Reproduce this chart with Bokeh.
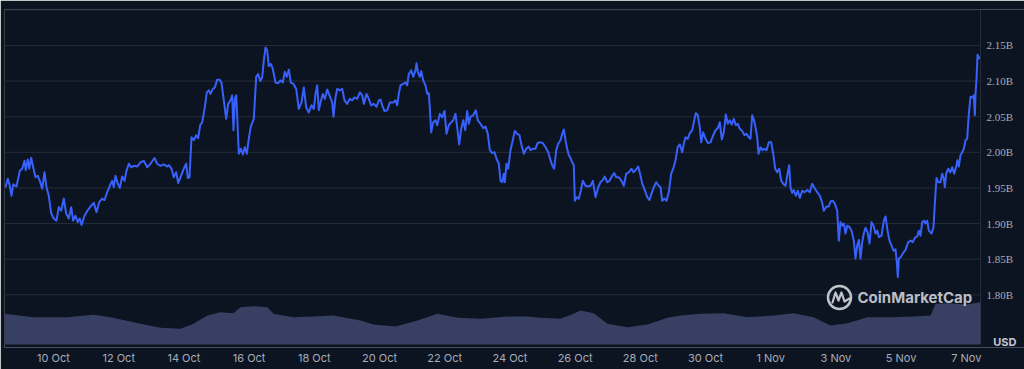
import numpy as np
from datetime import datetime
from bokeh.plotting import figure
from bokeh.models import ColumnDataSource, Range1d, FixedTicker, Label, LabelSet
from bokeh.embed import file_html
from bokeh.resources import INLINE

BASE = datetime(2023, 10, 8)

# price (market cap, billions USD) — day offsets from 8 Oct 00:00
price_days = [0.527, 0.598, 0.659, 0.711, 0.764, 0.865, 0.966, 1.040, 1.110, 1.150, 1.211, 1.254, 1.316, 1.377, 1.448,
              1.518, 1.580, 1.653, 1.724, 1.785, 1.856, 1.929, 2.009, 2.092, 2.162, 2.236, 2.316, 2.389, 2.469, 2.543,
              2.604, 2.675, 2.745, 2.807, 2.859, 2.951, 3.052, 3.156, 3.236, 3.319, 3.402, 3.494, 3.564, 3.647, 3.727,
              3.800, 3.850, 3.902, 3.972, 4.034, 4.107, 4.178, 4.239, 4.310, 4.383, 4.463, 4.567, 4.669, 4.770, 4.874,
              4.975, 5.098, 5.181, 5.282, 5.383, 5.488, 5.537, 5.619, 5.690, 5.764, 5.825, 5.896, 5.997, 6.070, 6.119,
              6.172, 6.233, 6.303, 6.377, 6.438, 6.500, 6.561, 6.641, 6.703, 6.764, 6.816, 6.887, 6.948, 7.021, 7.092,
              7.153, 7.224, 7.297, 7.359, 7.430, 7.481, 7.521, 7.561, 7.604, 7.644, 7.684, 7.745, 7.807, 7.868, 7.929,
              7.991, 8.052, 8.144, 8.218, 8.279, 8.340, 8.402, 8.451, 8.503, 8.555, 8.604, 8.666, 8.727, 8.810, 8.893,
              8.963, 9.034, 9.095, 9.156, 9.218, 9.279, 9.362, 9.445, 9.524, 9.607, 9.678, 9.751, 9.831, 9.914, 9.985,
              10.037, 10.089, 10.138, 10.190, 10.261, 10.322, 10.396, 10.466, 10.549, 10.589, 10.650, 10.702, 10.782,
              10.856, 10.926, 11.009, 11.089, 11.163, 11.233, 11.316, 11.396, 11.470, 11.519, 11.601, 11.672, 11.745,
              11.825, 11.908, 11.979, 12.031, 12.083, 12.154, 12.237, 12.316, 12.420, 12.491, 12.543, 12.592, 12.644,
              12.727, 12.797, 12.849, 12.899, 12.972, 13.034, 13.104, 13.135, 13.175, 13.236, 13.279, 13.340, 13.411,
              13.463, 13.512, 13.543, 13.586, 13.647, 13.718, 13.770, 13.850, 13.923, 13.994, 14.055, 14.126, 14.200,
              14.261, 14.331, 14.383, 14.445, 14.506, 14.567, 14.629, 14.690, 14.739, 14.791, 14.874, 14.954, 15.015,
              15.098, 15.181, 15.252, 15.322, 15.384, 15.457, 15.528, 15.589, 15.660, 15.712, 15.764, 15.813, 15.844,
              15.896, 15.948, 16.018, 16.089, 16.150, 16.224, 16.294, 16.356, 16.426, 16.500, 16.580, 16.632, 16.702,
              16.785, 16.847, 16.938, 17.009, 17.092, 17.175, 17.245, 17.297, 17.359, 17.420, 17.481, 17.552, 17.604,
              17.653, 17.705, 17.757, 17.807, 17.859, 17.911, 17.960, 17.991, 18.052, 18.114, 18.175, 18.236, 18.319,
              18.402, 18.473, 18.544, 18.626, 18.709, 18.779, 18.850, 18.911, 18.985, 19.055, 19.138, 19.199, 19.261,
              19.341, 19.423, 19.494, 19.568, 19.648, 19.730, 19.791, 19.853, 19.936, 20.006, 20.058, 20.138, 20.212,
              20.282, 20.343, 20.414, 20.488, 20.568, 20.620, 20.672, 20.742, 20.804, 20.874, 20.948, 21.009, 21.080,
              21.150, 21.212, 21.285, 21.334, 21.386, 21.457, 21.518, 21.592, 21.641, 21.702, 21.764, 21.825, 21.868,
              21.929, 22.000, 22.071, 22.153, 22.236, 22.307, 22.377, 22.439, 22.500, 22.561, 22.623, 22.684, 22.745,
              22.807, 22.868, 22.929, 22.991, 23.052, 23.126, 23.196, 23.258, 23.328, 23.380, 23.432, 23.482, 23.534,
              23.586, 23.625, 23.687, 23.748, 23.810, 23.871, 23.942, 24.015, 24.077, 24.138, 24.199, 24.261, 24.322,
              24.383, 24.454, 24.525, 24.567, 24.607, 24.659, 24.709, 24.770, 24.831, 24.893, 24.966, 25.037, 25.120,
              25.200, 25.273, 25.344, 25.427, 25.506, 25.580, 25.629, 25.712, 25.782, 25.834, 25.905, 25.966, 26.040,
              26.089, 26.141, 26.193, 26.243, 26.294, 26.346, 26.417, 26.478, 26.549, 26.601, 26.653, 26.703, 26.755,
              26.807, 26.856, 26.908, 26.970, 27.031, 27.092, 27.153, 27.215, 27.267, 27.316, 27.399, 27.470, 27.522,
              27.583, 27.644, 27.706, 27.767, 27.828, 27.868, 27.899, 27.930, 27.991, 28.053, 28.135, 28.218, 28.298,
              28.359, 28.421, 28.494, 28.543, 28.595, 28.647, 28.709, 28.748, 28.800, 28.850, 28.933, 28.994, 29.034,
              29.086, 29.138, 29.208, 29.260, 29.310, 29.340, 29.383, 29.445, 29.506, 29.568, 29.629, 29.690, 29.730,
              29.770, 29.822, 29.874, 29.923, 29.975, 30.027, 30.077, 30.129, 30.181, 30.230, 30.261, 30.282, 30.313,
              30.344, 30.405]
price_b = [1.951, 1.963, 1.953, 1.939, 1.955, 1.952, 1.974, 1.977, 1.988, 1.975, 1.990, 1.977, 1.992, 1.979, 1.965,
           1.967, 1.960, 1.949, 1.972, 1.951, 1.939, 1.914, 1.907, 1.904, 1.923, 1.918, 1.935, 1.914, 1.907, 1.923,
           1.904, 1.911, 1.902, 1.907, 1.898, 1.911, 1.919, 1.925, 1.929, 1.916, 1.930, 1.935, 1.933, 1.944, 1.953,
           1.960, 1.951, 1.967, 1.956, 1.950, 1.966, 1.960, 1.974, 1.984, 1.979, 1.981, 1.980, 1.986, 1.988, 1.979,
           1.984, 1.992, 1.984, 1.981, 1.983, 1.980, 1.982, 1.977, 1.965, 1.972, 1.957, 1.965, 1.977, 1.984, 1.964,
           1.965, 2.021, 2.017, 2.024, 2.020, 2.038, 2.042, 2.063, 2.084, 2.087, 2.082, 2.089, 2.091, 2.102, 2.102,
           2.098, 2.073, 2.047, 2.068, 2.073, 2.080, 2.031, 2.075, 2.080, 2.042, 1.998, 2.005, 1.997, 2.007, 1.998,
           2.019, 2.036, 2.047, 2.106, 2.110, 2.100, 2.105, 2.129, 2.147, 2.143, 2.121, 2.124, 2.117, 2.098, 2.097,
           2.101, 2.098, 2.113, 2.106, 2.116, 2.098, 2.096, 2.089, 2.061, 2.070, 2.091, 2.063, 2.056, 2.066, 2.061,
           2.082, 2.094, 2.059, 2.070, 2.082, 2.075, 2.088, 2.080, 2.070, 2.050, 2.077, 2.089, 2.087,
           2.089, 2.073, 2.068, 2.075, 2.073, 2.077, 2.075, 2.084, 2.080, 2.068, 2.082, 2.075, 2.066,
           2.068, 2.064, 2.073, 2.074, 2.066, 2.058, 2.059, 2.070, 2.070, 2.073, 2.066, 2.082, 2.094,
           2.096, 2.098, 2.094, 2.110, 2.115, 2.106, 2.115, 2.125, 2.113, 2.106, 2.114, 2.101, 2.094,
           2.082, 2.083, 2.063, 2.028, 2.042, 2.045, 2.038, 2.054, 2.049, 2.058, 2.026, 2.038, 2.042,
           2.045, 2.054, 2.035, 2.011, 2.033, 2.045, 2.031, 2.058, 2.040, 2.050, 2.052, 2.059, 2.045,
           2.040, 2.034, 2.036, 2.026, 2.003, 1.999, 2.000, 1.991, 1.984, 1.960, 1.958, 1.970, 1.958,
           1.984, 1.977, 2.003, 2.017, 2.030, 2.026, 2.024, 2.010, 1.998, 2.005, 2.008, 2.003, 2.005,
           2.005, 2.013, 2.014, 2.013, 2.007, 2.000, 1.989, 1.982, 1.977, 2.003, 2.012, 2.017, 2.026,
           2.032, 2.017, 2.005, 1.996, 1.992, 1.986, 1.982, 1.932, 1.937, 1.935, 1.946, 1.960, 1.953,
           1.952, 1.953, 1.960, 1.937, 1.951, 1.958, 1.961, 1.966, 1.958, 1.960, 1.967, 1.971, 1.965,
           1.965, 1.960, 1.953, 1.970, 1.972, 1.977, 1.972, 1.975, 1.980, 1.967, 1.956, 1.947, 1.937,
           1.933, 1.942, 1.951, 1.958, 1.953, 1.951, 1.932, 1.935, 1.932, 1.944, 1.970, 1.977, 1.989,
           2.008, 2.011, 2.000, 2.012, 2.021, 2.019, 2.027, 2.031, 2.042, 2.055, 2.052, 2.035, 2.014,
           2.028, 2.019, 2.013, 2.014, 2.024, 2.031, 2.034, 2.042, 2.018, 2.028, 2.053, 2.040, 2.045,
           2.039, 2.047, 2.038, 2.040, 2.033, 2.030, 2.024, 2.026, 2.021, 2.019, 2.052, 2.046, 2.035,
           2.021, 1.998, 2.007, 2.003, 2.005, 2.003, 2.014, 2.014, 1.998, 1.977, 1.972, 1.977, 1.960,
           1.956, 1.953, 1.972, 1.982, 1.951, 1.943, 1.947, 1.939, 1.946, 1.936, 1.946, 1.944, 1.947,
           1.944, 1.956, 1.950, 1.944, 1.939, 1.929, 1.918, 1.924, 1.924, 1.931, 1.932, 1.928, 1.918,
           1.876, 1.902, 1.897, 1.900, 1.886, 1.897, 1.895, 1.890, 1.876, 1.851, 1.869, 1.877, 1.851,
           1.874, 1.886, 1.894, 1.888, 1.872, 1.902, 1.897, 1.886, 1.890, 1.881, 1.883, 1.904, 1.910,
           1.890, 1.876, 1.869, 1.862, 1.864, 1.846, 1.825, 1.851, 1.853, 1.858, 1.863, 1.874, 1.876,
           1.874, 1.880, 1.882, 1.890, 1.883, 1.902, 1.904, 1.900, 1.904, 1.890, 1.886, 1.895, 1.928,
           1.964, 1.958, 1.958, 1.970, 1.963, 1.951, 1.970, 1.977, 1.972, 1.979, 1.970, 1.980, 1.989,
           1.980, 1.996, 2.000, 2.005, 2.017, 2.019, 2.054, 2.078, 2.077, 2.080, 2.052, 2.082, 2.103,
           2.137, 2.131]

# trading volume (relative units, millions)
volume_days = [0.497, 1.386, 2.429, 3.227, 3.748, 4.669, 5.282, 5.896, 6.294, 6.724, 7.123, 7.521, 7.736, 8.135,
               8.564, 8.748, 9.362, 9.976, 10.589, 11.417, 11.816, 12.491, 13.166, 13.779, 14.393, 15.098, 15.926,
               16.540, 16.939, 17.552, 17.951, 18.166, 18.565, 18.994, 19.607, 20.221, 20.834, 21.233, 21.847,
               22.552, 23.288, 24.086, 24.699, 25.313, 25.834, 26.356, 26.969, 27.767, 28.381, 28.902, 29.055,
               29.423, 30.037, 30.221, 30.436]
volume_m = [22.9, 20.4, 20.4, 22.2, 20.4, 15.4, 12.5, 11.7, 15.4, 21.6, 24.1, 23.4, 27.8, 28.6, 27.8, 22.9, 20.4,
            20.9, 21.6, 17.9, 14.9, 13.4, 17.9, 22.9, 19.9, 19.2, 20.9, 20.9, 19.9, 19.2, 22.9, 25.4, 23.4, 15.4,
            12.9, 14.9, 19.9, 21.6, 22.9, 23.4, 20.4, 21.6, 23.4, 20.4, 14.2, 15.9, 20.4, 20.4, 20.9, 21.6, 30.4,
            30.8, 29.8, 30.8, 31.6]

x_tick_days = [2, 4, 6, 8, 10, 12, 14, 16, 18, 20, 22, 24, 26, 28, 30]
x_tick_labels = ["10 Oct", "12 Oct", "14 Oct", "16 Oct", "18 Oct", "20 Oct", "22 Oct", "24 Oct", "26 Oct",
                 "28 Oct", "30 Oct", "1 Nov", "3 Nov", "5 Nov", "7 Nov"]
y_ticks = [1.80, 1.85, 1.90, 1.95, 2.00, 2.05, 2.10, 2.15]
y_tick_labels = ["1.80B", "1.85B", "1.90B", "1.95B", "2.00B", "2.05B", "2.10B", "2.15B"]
y_grid = [1.80, 1.85, 1.90, 1.95, 2.00, 2.05, 2.10, 2.15, 2.20]
unit_label = "USD"

BASE_MS = (BASE - datetime(1970, 1, 1)).total_seconds() * 1000.0
DAY_MS = 86400000.0


def to_ms(days):
    return [BASE_MS + d * DAY_MS for d in days]


# data window: x = 4px ... 980px, y = 9px ... 344px ; frame bottom at 347px
X0, X1 = 0.497, 30.435
Y0, Y1 = 1.7302, 2.2005
PL, PR, PT, PB = 4, 980, 9, 344
FB = 347
VOL_TOP = 250.0


def px_x(px):
    return BASE_MS + (X0 + (px - PL) / (PR - PL) * (X1 - X0)) * DAY_MS


def px_y(py):
    return Y1 - (py - PT) / (PB - PT) * (Y1 - Y0)


BG = "#0d1421"
GRID = "#262c3a"
TXT = "#a7acb9"
LINE = "#3861fb"

# frame spans to the right canvas edge so the value labels can live inside it
p = figure(width=1024, height=369, x_axis_type="datetime", y_axis_location=None,
           x_range=Range1d(px_x(PL), px_x(1024)), y_range=Range1d(px_y(FB), Y1),
           output_backend="svg", toolbar_location=None,
           min_border_left=PL, min_border_right=0, min_border_top=PT, min_border_bottom=369 - FB)
p.background_fill_color = BG
p.border_fill_color = BG
p.outline_line_color = None

vol_start = -VOL_TOP * (FB - PB) / (PB - PT)
p.extra_y_ranges = {"vol": Range1d(vol_start, VOL_TOP)}

# grid lines and left/right borders of the chart area
n = len(y_grid)
p.segment(x0=[px_x(PL)] * n, x1=[px_x(PR)] * n, y0=y_grid, y1=y_grid, line_color=GRID, line_width=1)
p.segment(x0=[px_x(PL), px_x(PR)], x1=[px_x(PL), px_x(PR)], y0=[Y0, Y0], y1=[Y1, Y1],
          line_color=GRID, line_width=1)

vsrc = ColumnDataSource(dict(x=to_ms(volume_days), v=volume_m))
p.varea(x="x", y1=0, y2="v", source=vsrc, y_range_name="vol", fill_color="#373f63", fill_alpha=1.0)

src = ColumnDataSource(dict(x=to_ms(price_days), y=price_b))
p.line("x", "y", source=src, line_color=LINE, line_width=2, line_join="round")

p.xgrid.visible = False
p.ygrid.visible = False

# x axis
xa = p.xaxis[0]
xt = to_ms(x_tick_days)
xa.ticker = FixedTicker(ticks=xt)
xa.major_label_overrides = {t: lab for t, lab in zip(xt, x_tick_labels)}
xa.axis_line_color = None
xa.major_tick_line_color = None
xa.minor_tick_line_color = None
xa.major_tick_out = 0
xa.major_tick_in = 0
xa.minor_tick_out = 0
xa.major_label_text_color = TXT
xa.major_label_text_font = "Inter"
xa.major_label_text_font_size = "11px"
xa.major_label_standoff = 3

# value labels on the right
ysrc = ColumnDataSource(dict(y=y_ticks, t=y_tick_labels, x=[px_x(986)] * len(y_ticks)))
p.add_layout(LabelSet(x="x", y="y", text="t", source=ysrc, text_align="left", text_baseline="middle",
                      text_color=TXT, text_font="Inter", text_font_size="11px"))

# "USD" unit label
p.add_layout(Label(x=px_x(1016), y=px_y(341.5), text=unit_label, text_align="right", text_baseline="middle",
                   text_color="#c3c7d2", text_font="Inter", text_font_size="11px", text_font_style="bold"))

# CoinMarketCap watermark
WM = "#d2d5dd"
p.scatter([px_x(839)], [px_y(297)], marker="circle", size=23, fill_color=None, line_color=WM,
          line_width=2.5, line_alpha=0.9)
wave_px = [(832, 302), (835, 292), (838, 300), (841, 292), (844, 301), (849, 298)]
p.line([px_x(a) for a, b in wave_px], [px_y(b) for a, b in wave_px], line_color=WM, line_width=2.2,
       line_alpha=0.9, line_join="round", line_cap="round")
p.add_layout(Label(x=px_x(857), y=px_y(297), text="CoinMarketCap", text_align="left", text_baseline="middle",
                   text_color=WM, text_alpha=0.9, text_font="Inter", text_font_size="15px",
                   text_font_style="bold"))

open("out.html", "w").write(file_html(p, INLINE))
